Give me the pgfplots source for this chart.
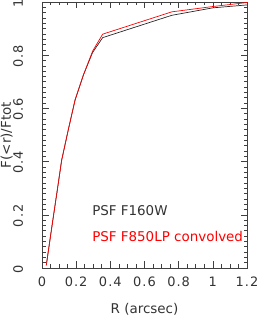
\documentclass[border=0pt]{standalone}
\usepackage{fontspec}
\setmainfont{DejaVu Sans}
\newfontfamily\tickfont[LetterSpace=8]{DejaVu Sans}
\usepackage{pgfplots}
\pgfplotsset{compat=1.18}
\begin{document}
\begin{tikzpicture}
\begin{axis}[
  at={(0,0)}, anchor=south west,
  scale only axis, width=205bp, height=266bp,
  xmin=0, xmax=1.2, ymin=0, ymax=1,
  xtick={0,0.2,0.4,0.6,0.8,1,1.2},
  ytick={0,0.2,0.4,0.6,0.8,1},
  minor x tick num=3, minor y tick num=9,
  tick align=inside, xtick pos=both, ytick pos=both,
  major tick length=6.5bp, minor tick length=3.5bp,
  axis line style={black!75, line width=0.6pt},
  tick style={black!75, line width=0.6pt},
  /pgf/number format/assume math mode=true,
  ticklabel style={font=\tickfont\fontsize{13}{16}\selectfont, text=black!80},
  xticklabel style={anchor=base, yshift=-18.5bp},
  yticklabel style={rotate=90, anchor=base, yshift=19bp, xshift=-1bp},
  xlabel={R (arcsec)}, ylabel={F(<r)/Ftot},
  label style={font=\fontsize{13.5}{16}\selectfont, text=black!80},
  xlabel style={at={(axis description cs:0.5,0)}, anchor=base, yshift=-45.5bp},
  ylabel style={at={(axis description cs:0,0.5)}, rotate=0, anchor=base, yshift=31bp},
  clip=false,
]
\addplot[black!85, line width=0.7pt] coordinates {
 (0.025,0.01) (0.06,0.165) (0.09,0.295) (0.115,0.405) (0.154,0.52)
 (0.193,0.63) (0.242,0.725) (0.296,0.81) (0.355,0.866) (0.76,0.950)
 (1.0,0.978) (1.2,0.989)};
\addplot[red, line width=0.7pt] coordinates {
 (0.025,0.01) (0.06,0.165) (0.09,0.295) (0.115,0.405) (0.154,0.52)
 (0.193,0.63) (0.242,0.725) (0.296,0.815) (0.355,0.879) (0.76,0.963)
 (1.0,0.983) (1.2,0.998)};
\node[anchor=base west, text=black!80, font=\fontsize{13.5}{16}\selectfont, inner sep=0pt] at (axis cs:0.293,0.199) {PSF F160W};
\node[anchor=base west, text=red, font=\fontsize{13.5}{16}\selectfont, inner sep=0pt] at (axis cs:0.293,0.099) {PSF F850LP convolved};
\end{axis}
\pgfresetboundingbox
\useasboundingbox (-42bp,-48bp) rectangle (215bp,268bp);
\end{tikzpicture}
\end{document}
